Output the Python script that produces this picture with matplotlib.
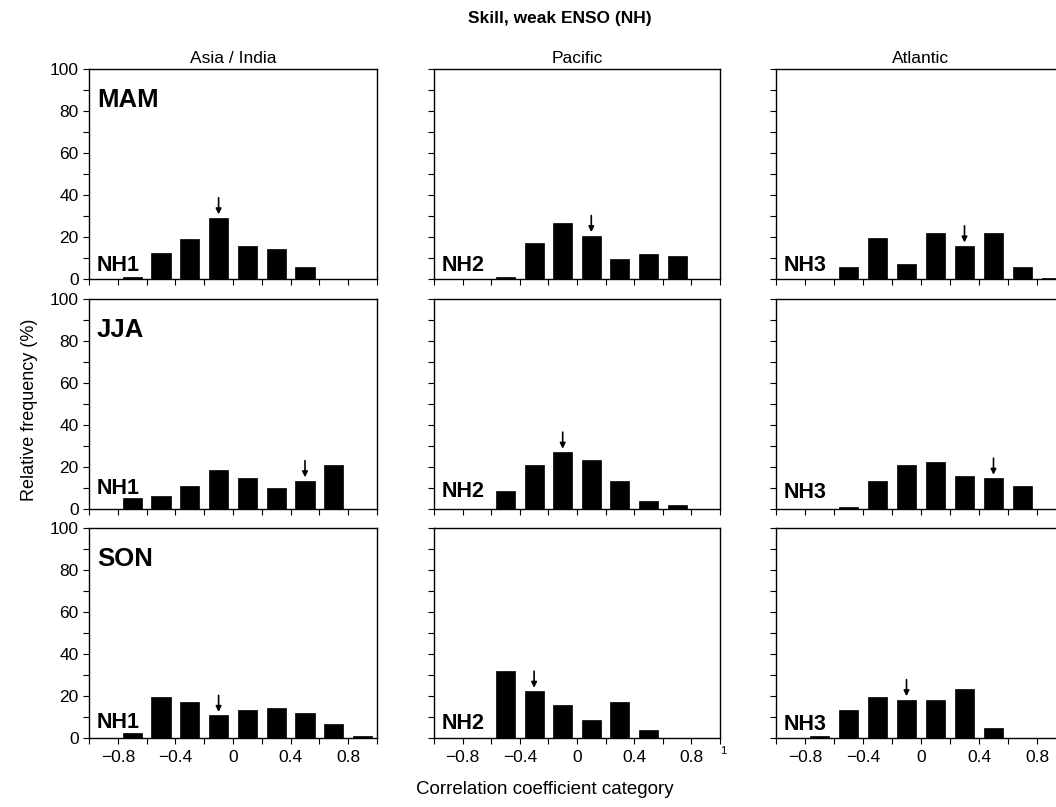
import matplotlib
matplotlib.use("Agg")
import matplotlib.pyplot as plt
import numpy as np

plt.rcParams['font.family'] = ['Liberation Sans', 'DejaVu Sans']

# bin centres of the correlation categories
bins = [-0.9, -0.7, -0.5, -0.3, -0.1, 0.1, 0.3, 0.5, 0.7, 0.9]

seasons = ["MAM", "JJA", "SON"]
regions = ["Asia / India", "Pacific", "Atlantic"]
region_ids = ["NH1", "NH2", "NH3"]

# relative frequency (%) per season (rows) and region (columns)
mam_asia = [0, 1.0, 12.2, 19.2, 29.2, 15.6, 14.3, 5.9, 0, 0]
mam_pac = [0, 0, 1.0, 17.2, 26.9, 20.7, 9.6, 12.1, 10.8, 0]
mam_atl = [0, 0, 5.9, 19.4, 7.0, 21.8, 15.8, 21.8, 5.9, 0.3]
jja_asia = [0, 5.1, 6.3, 11.1, 18.4, 14.8, 9.8, 13.5, 20.8, 0]
jja_pac = [0, 0, 8.7, 21.0, 27.1, 23.2, 13.5, 3.7, 1.9, 0]
jja_atl = [0, 0, 1.1, 13.4, 21.0, 22.3, 15.8, 14.7, 11.1, 0]
son_asia = [0, 2.5, 19.6, 17.2, 10.8, 13.1, 14.5, 12.1, 6.8, 0.8]
son_pac = [0, 0, 32.0, 22.3, 15.8, 8.6, 17.2, 3.7, 0, 0]
son_atl = [0, 1.0, 13.4, 19.4, 18.3, 18.3, 23.1, 4.6, 0.2, 0]

# category marked with an arrow (mean skill)
mam_arrows = [-0.1, 0.1, 0.3]
jja_arrows = [0.5, -0.1, 0.5]
son_arrows = [-0.1, -0.3, -0.1]

values = [[mam_asia, mam_pac, mam_atl],
          [jja_asia, jja_pac, jja_atl],
          [son_asia, son_pac, son_atl]]
arrows = [mam_arrows, jja_arrows, son_arrows]

W, H = 1056, 807
fig = plt.figure(figsize=(W / 100, H / 100), dpi=100)

col_px = [(89, 377), (434, 720), (776, 1066)]
row_px = [(69, 279), (299, 509), (528, 738)]
# height of the NH labels above the axis (axes fraction)
id_y = [[0.038, 0.037, 0.037], [0.07, 0.055, 0.05], [0.048, 0.041, 0.04]]

for r in range(3):
    for c in range(3):
        x0, x1 = col_px[c]
        y0, y1 = row_px[r]
        ax = fig.add_axes([x0 / W, 1 - y1 / H, (x1 - x0) / W, (y1 - y0) / H])
        vals = values[r][c]
        ax.bar(bins, vals, width=0.134, color='black', edgecolor='black', linewidth=0.5)

        # arrow above the marked category
        xa = arrows[r][c]
        h = vals[bins.index(xa)]
        ax.annotate('', xy=(xa, h + 1.6), xytext=(xa, h + 9.5),
                    arrowprops=dict(arrowstyle='-|>', color='black', lw=1.2,
                                    mutation_scale=8, shrinkA=0, shrinkB=0))

        ax.set_xlim(-1, 1)
        ax.set_ylim(0, 100)
        ax.set_xticks(np.arange(-1, 1.01, 0.2), minor=True)
        ax.set_xticks([-0.8, -0.4, 0, 0.4, 0.8])
        ax.set_yticks(np.arange(0, 101, 20))
        ax.set_yticks(np.arange(0, 101, 10), minor=True)
        ax.tick_params(which='both', direction='out', length=4, width=0.8, labelsize=12.5)
        ax.tick_params(axis='x', which='major', pad=5)
        for s in ax.spines.values():
            s.set_linewidth(1.0)

        if r == 2:
            ax.set_xticklabels(['\u22120.8', '\u22120.4', '0', '0.4', '0.8'])
        else:
            ax.set_xticklabels([])
        if c != 0:
            ax.set_yticklabels([])
        if r == 0:
            ax.set_title(regions[c], fontsize=12.5, pad=4)
        if c == 0:
            ax.text(0.027, 0.91, seasons[r], transform=ax.transAxes,
                    fontsize=18.5, fontweight='bold', va='top', ha='left')
        ax.text(0.025, id_y[r][c], region_ids[c], transform=ax.transAxes,
                fontsize=15.5, fontweight='bold', va='baseline', ha='left')
        if r == 2 and c == 1:
            ax.text(1.0, -0.06, '1', transform=ax.transAxes, fontsize=8,
                    ha='left', va='center')

fig.text(560 / W, 1 - 18 / H, 'Skill, weak ENSO (NH)', ha='center', va='center',
         fontsize=12.5, fontweight='bold')
fig.text(30 / W, 1 - 410 / H, 'Relative frequency (%)', ha='center', va='center',
         rotation=90, fontsize=13)
fig.text(545 / W, 1 - 790 / H, 'Correlation coefficient category', ha='center',
         va='center', fontsize=13.5)

fig.savefig('out.png', dpi=100)
